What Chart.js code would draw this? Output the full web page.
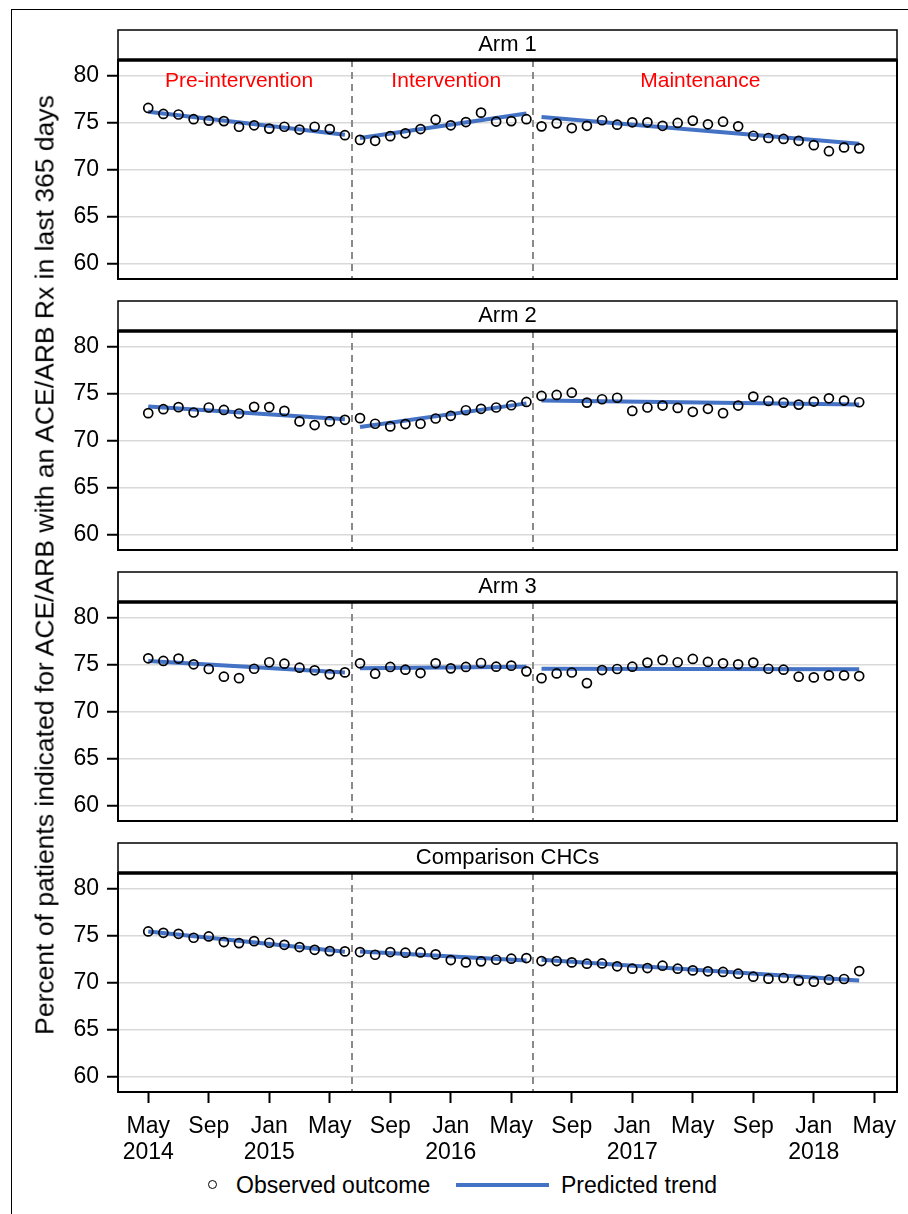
<!DOCTYPE html>
<html>
<head>
<meta charset="utf-8">
<script src="https://cdn.jsdelivr.net/npm/chart.js@4"></script>
<style>
  body { margin: 0; background: #fff; width: 908px; height: 1214px; overflow: hidden; position: relative; font-family: "Liberation Sans", Arial, sans-serif; }
  canvas { position: absolute; left: 0; }
  .lbl { position: absolute; font-size: 23px; white-space: nowrap; color: #000; }
</style>
</head>
<body>
<div style="position:absolute;left:11px;top:9px;width:940px;height:1260px;border:1.5px solid #000;"></div>
<canvas id="p0" width="908" height="271" style="top:20px"></canvas>
<canvas id="p1" width="908" height="271" style="top:291px"></canvas>
<canvas id="p2" width="908" height="271" style="top:562px"></canvas>
<canvas id="p3" width="908" height="330" style="top:833px"></canvas>

<div class="lbl" style="left:45px;top:565px;font-size:26.5px;transform:translate(-50%,-50%) rotate(-90deg);">Percent of patients indicated for ACE/ARB with an ACE/ARB Rx in last 365 days</div>

<div style="position:absolute;left:208px;top:1180px;width:7px;height:7px;border:1.7px solid #000;border-radius:50%;"></div>
<div class="lbl" style="left:236px;top:1171px;line-height:28px;">Observed outcome</div>
<div style="position:absolute;left:456px;top:1183px;width:93px;height:4px;background:#4472C4;"></div>
<div class="lbl" style="left:561px;top:1171px;line-height:28px;">Predicted trend</div>

<script>
// months since May 2014 (0..47), one observation per month
const panelTitles = ['Arm 1', 'Arm 2', 'Arm 3', 'Comparison CHCs'];

const arm1 = [76.6, 75.96, 75.9, 75.4, 75.25, 75.2, 74.6, 74.75, 74.4, 74.6, 74.3, 74.6, 74.35, 73.7,
  73.2, 73.1, 73.6, 73.9, 74.35, 75.35, 74.75, 75.1, 76.1, 75.15, 75.2, 75.4,
  74.64, 74.96, 74.46, 74.7, 75.29, 74.82, 75.07, 75.07, 74.7, 75.0, 75.25, 74.86, 75.14, 74.64, 73.64, 73.4, 73.3, 73.1, 72.64, 72.0, 72.4, 72.3];
const arm2 = [72.96, 73.38, 73.6, 73.03, 73.56, 73.3, 72.92, 73.63, 73.6, 73.2, 72.08, 71.69, 72.08, 72.25,
  72.43, 71.83, 71.55, 71.8, 71.83, 72.39, 72.68, 73.27, 73.42, 73.56, 73.8, 74.15,
  74.79, 74.9, 75.14, 74.08, 74.44, 74.6, 73.2, 73.56, 73.77, 73.52, 73.1, 73.42, 72.96, 73.77, 74.72, 74.26, 74.08, 73.87, 74.19, 74.54, 74.3, 74.12];
const arm3 = [75.71, 75.43, 75.68, 75.07, 74.57, 73.75, 73.6, 74.6, 75.29, 75.14, 74.71, 74.43, 74.0, 74.21,
  75.18, 74.07, 74.79, 74.5, 74.14, 75.18, 74.64, 74.79, 75.21, 74.82, 74.93, 74.32,
  73.6, 74.1, 74.2, 73.07, 74.46, 74.57, 74.82, 75.25, 75.54, 75.29, 75.64, 75.32, 75.18, 75.07, 75.25, 74.6, 74.5, 73.75, 73.68, 73.89, 73.89, 73.82];
const comparison = [75.48, 75.34, 75.23, 74.81, 74.95, 74.35, 74.24, 74.45, 74.28, 74.06, 73.82, 73.53, 73.39, 73.36,
  73.29, 73.0, 73.29, 73.22, 73.25, 73.04, 72.44, 72.19, 72.3, 72.47, 72.58, 72.65,
  72.33, 72.33, 72.19, 72.05, 72.08, 71.77, 71.52, 71.59, 71.84, 71.52, 71.34, 71.24, 71.17, 70.99, 70.67, 70.46, 70.53, 70.25, 70.14, 70.35, 70.42, 71.27];

// predicted trend: start / end value of each phase segment
const arm1Trend = [76.2, 73.75, 73.4, 76.0, 75.64, 72.8];
const arm2Trend = [73.66, 72.32, 71.48, 74.0, 74.3, 73.87];
const arm3Trend = [75.43, 74.21, 74.64, 74.82, 74.6, 74.54];
const comparisonTrend = [75.48, 73.32, 73.36, 72.4, 72.47, 70.25];

const segments = [[0, 13], [14, 25], [26, 47]];
const phaseBreaks = [13.45, 25.45];
const phaseNames = ['Pre-intervention', 'Intervention', 'Maintenance'];
const phaseLabelAt = [6, 19.7, 36.5];

const yTicks = [60, 62.5, 65, 67.5, 70, 72.5, 75, 77.5, 80];
const tickMonths = [0, 4, 8, 12, 16, 20, 24, 28, 32, 36, 40, 44, 48];
const tickLabels = [['May', '2014'], 'Sep', ['Jan', '2015'], 'May', 'Sep', ['Jan', '2016'], 'May', 'Sep',
  ['Jan', '2017'], 'May', 'Sep', ['Jan', '2018'], 'May'];

const FONT = '"Liberation Sans", Arial, sans-serif';
Chart.defaults.font.family = FONT;
Chart.defaults.color = '#000';

const panelDecor = {
  id: 'panelDecor',
  beforeDatasetsDraw(chart, args, opts) {
    const { ctx, chartArea: a, scales: { x, y } } = chart;
    ctx.save();
    ctx.strokeStyle = '#8a8a8a';
    ctx.lineWidth = 2;
    ctx.setLineDash([7, 5]);
    phaseBreaks.forEach(b => {
      const px = Math.round(x.getPixelForValue(b));
      ctx.beginPath();
      ctx.moveTo(px, a.top);
      ctx.lineTo(px, a.bottom);
      ctx.stroke();
    });
    ctx.setLineDash([]);
    if (opts.showPhases) {
      ctx.fillStyle = '#ff0000';
      ctx.font = '21px ' + FONT;
      ctx.textAlign = 'center';
      ctx.textBaseline = 'middle';
      phaseNames.forEach((n, i) => {
        ctx.fillText(n, x.getPixelForValue(phaseLabelAt[i]), y.getPixelForValue(79.4));
      });
    }
    ctx.restore();
  },
  afterDraw(chart, args, opts) {
    const { ctx, chartArea: a } = chart;
    ctx.save();
    ctx.strokeStyle = '#000';
    ctx.lineWidth = 2;
    ctx.strokeRect(a.left, a.top, a.right - a.left, a.bottom - a.top);
    ctx.lineWidth = 1.5;
    ctx.strokeRect(a.left, a.top - 30, a.right - a.left, 30);
    ctx.lineWidth = 3.5;
    ctx.beginPath();
    ctx.moveTo(a.left, a.top);
    ctx.lineTo(a.right, a.top);
    ctx.stroke();
    ctx.fillStyle = '#000';
    ctx.font = '22px ' + FONT;
    ctx.textAlign = 'center';
    ctx.textBaseline = 'middle';
    ctx.fillText(opts.title, (a.left + a.right) / 2, a.top - 15);
    ctx.restore();
  }
};

function makePanel(id, title, values, trend, idx, isLast) {
  const datasets = [{
    type: 'scatter',
    data: values.map((v, i) => ({ x: i, y: v })),
    pointStyle: 'circle',
    pointRadius: 4.5,
    pointBorderWidth: 1.7,
    pointBorderColor: '#000',
    pointBackgroundColor: 'rgba(0,0,0,0)'
  }];
  segments.forEach((s, k) => {
    datasets.push({
      type: 'line',
      data: [{ x: s[0], y: trend[k * 2] }, { x: s[1], y: trend[k * 2 + 1] }],
      borderColor: '#4472C4',
      borderWidth: 4,
      pointRadius: 0,
      fill: false
    });
  });

  new Chart(document.getElementById(id), {
    data: { datasets },
    options: {
      responsive: false,
      animation: false,
      events: [],
      layout: { padding: { left: 58, right: 11, top: 40, bottom: isLast ? 0 : 12 } },
      plugins: {
        legend: { display: false },
        tooltip: { enabled: false },
        panelDecor: { title, showPhases: idx === 0 }
      },
      scales: {
        x: {
          type: 'linear',
          min: -2,
          max: 49.5,
          display: isLast,
          afterBuildTicks: s => { s.ticks = tickMonths.map(v => ({ value: v })); },
          afterFit: s => { s.height = isLast ? 71 : 0; },
          border: { display: false },
          grid: { drawOnChartArea: false, color: '#000', tickColor: '#000', tickLength: 11, tickWidth: 2 },
          ticks: {
            autoSkip: false,
            maxRotation: 0,
            padding: 10,
            font: { size: 23, lineHeight: 1.15 },
            callback: v => {
              const i = tickMonths.indexOf(v);
              return i >= 0 ? tickLabels[i] : '';
            }
          }
        },
        y: {
          type: 'linear',
          min: 58.4,
          max: 81.7,
          afterBuildTicks: s => { s.ticks = yTicks.map(v => ({ value: v })); },
          afterFit: s => { s.width = 60; s.paddingTop = 0; s.paddingBottom = 0; },
          border: { display: false },
          grid: {
            color: c => (c.tick && c.tick.value % 5 === 0) ? '#d9d9d9' : 'rgba(0,0,0,0)',
            lineWidth: 1.5,
            tickColor: '#000',
            tickLength: 11,
            tickWidth: 2
          },
          ticks: {
            padding: 8,
            font: { size: 23 },
            callback: v => (v % 5 === 0 ? String(v) : '')
          }
        }
      }
    },
    plugins: [panelDecor]
  });
}

makePanel('p0', panelTitles[0], arm1, arm1Trend, 0, false);
makePanel('p1', panelTitles[1], arm2, arm2Trend, 1, false);
makePanel('p2', panelTitles[2], arm3, arm3Trend, 2, false);
makePanel('p3', panelTitles[3], comparison, comparisonTrend, 3, true);
</script>
</body>
</html>
